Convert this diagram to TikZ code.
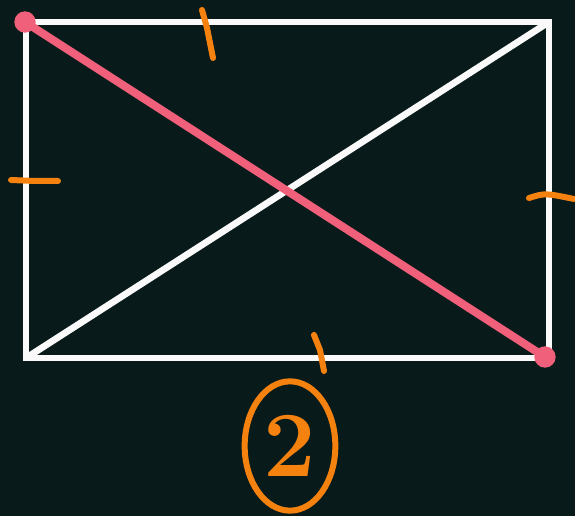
\documentclass[tikz,border=0pt]{standalone}
\usepackage{tikz}
\usetikzlibrary{shapes.geometric}
\definecolor{board}{RGB}{9,26,27}
\definecolor{chalk}{RGB}{250,250,250}
\definecolor{marker}{RGB}{245,130,15}
\definecolor{pinkink}{RGB}{240,96,122}
\tikzset{
  edge/.style={chalk,line width=5pt},
  tick/.style={marker,line width=4.5pt,line cap=round},
  diag/.style={pinkink,line width=6pt,line cap=round},
  enddot/.style={circle,fill=pinkink,inner sep=0pt,minimum size=16pt}
}
\begin{document}
\begin{tikzpicture}[x=0.75pt,y=-0.75pt]
        \fill[board] (0,0) rectangle (575,516);
        \useasboundingbox (0,0) rectangle (575,516);

        %% corners
        \coordinate (tl) at (26,22);
        \coordinate (tr) at (549,22);
        \coordinate (br) at (549,358);
        \coordinate (bl) at (26,358);

        %% rectangle and white diagonal
        \draw[edge,line join=miter] (tl) -- (tr) -- (br) -- (bl) -- cycle;
        \draw[edge] (bl) -- (tr);

        %% pink diagonal
        \node[enddot] (p1) at (25,22) {};
        \node[enddot] (p2) at (545,357) {};
        \draw[diag] (p1.center) -- (p2.center);

        %% equal sides
        \draw[tick] (202,10) -- (207,28) -- (213,58);
        \draw[tick] (11,180) -- (35,181) -- (58,181);
        \draw[tick] (529,198) .. controls (545,193) .. (574,199);
        \draw[tick] (314,335) -- (320,350) -- (324,371);

        %% label
        \node[ellipse,draw=marker,line width=4.5pt,minimum width=68pt,minimum height=97pt,
              inner sep=0pt,text=marker,font=\fontsize{70}{72}\selectfont\bfseries] (lbl) at (290,446) {2};
\end{tikzpicture}
\end{document}
